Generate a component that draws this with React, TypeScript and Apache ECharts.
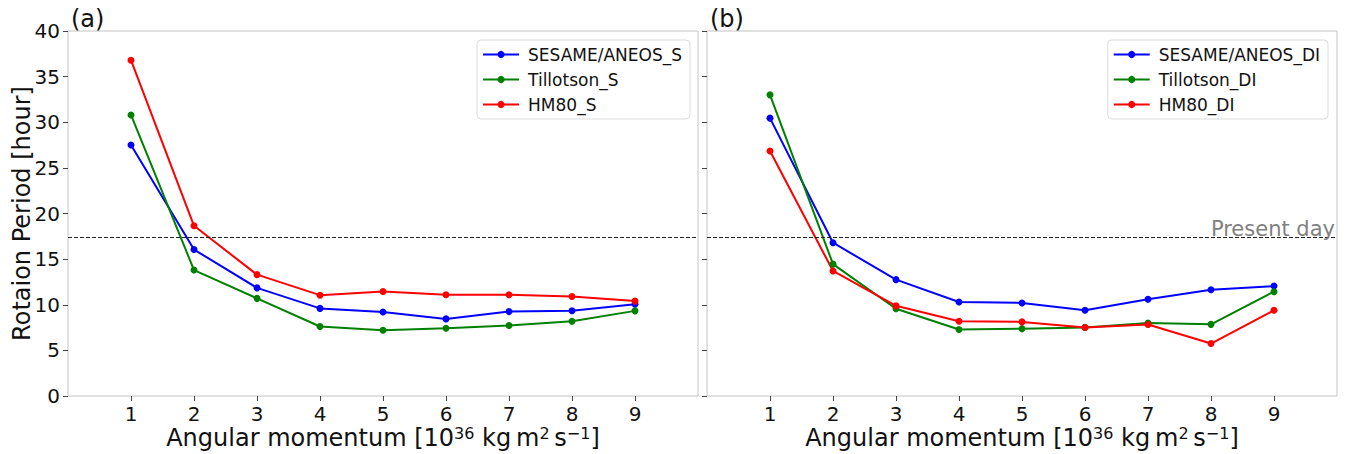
import React, { useEffect, useRef } from "react";
import * as echarts from "echarts";

const momentum = [1, 2, 3, 4, 5, 6, 7, 8, 9];
const xTicks = [1, 2, 3, 4, 5, 6, 7, 8, 9];
const presentDay = 17.35;

const sesameS = [27.5, 16.05, 11.85, 9.6, 9.2, 8.45, 9.25, 9.35, 10.05];
const tillotsonS = [30.8, 13.8, 10.7, 7.62, 7.2, 7.42, 7.72, 8.2, 9.33];
const hm80S = [36.8, 18.65, 13.3, 11.05, 11.45, 11.1, 11.1, 10.9, 10.4];

const sesameDI = [30.45, 16.8, 12.75, 10.3, 10.2, 9.4, 10.6, 11.65, 12.05];
const tillotsonDI = [33.0, 14.45, 9.56, 7.28, 7.38, 7.52, 8.0, 7.85, 11.43];
const hm80DI = [26.85, 13.7, 9.88, 8.2, 8.12, 7.5, 7.83, 5.75, 9.4];

const FONT = "DejaVu Sans";
const colors = { blue: "#0000ff", green: "#008000", red: "#ff0000" };

function pairs(ys: number[]) {
  return momentum.map((x, i) => [x, ys[i]]);
}

export default function App() {
  const ref = useRef<HTMLDivElement>(null);
  useEffect(() => {
    if (!ref.current) return;
    const chart = echarts.init(ref.current, undefined, { renderer: "svg" });
    const xName =
      "{m|Angular momentum [10}{s|36}{m| kg\u2009m}{s|2}{m|\u2009s}{s|−1}{m|]}";
    const xAxisBase = (gridIndex: number) => ({
      type: "value",
      gridIndex,
      min: 0,
      max: 10,
      interval: 1,
      splitLine: { show: false },
      axisLine: { show: false },
      axisTick: {
        show: true,
        length: 5,
        lineStyle: { color: "#444" },
        customValues: xTicks,
      },
      axisLabel: {
        fontSize: 20,
        color: "#111",
        fontFamily: FONT,
        margin: 8,
        customValues: xTicks,
      },
      name: xName,
      nameLocation: "middle",
      nameGap: 29,
      nameMoveOverlap: false,
      nameTextStyle: {
        fontFamily: FONT,
        color: "#111",
        rich: {
          m: { fontSize: 24, fontFamily: FONT, color: "#111", lineHeight: 26 },
          s: {
            fontSize: 16,
            fontFamily: FONT,
            color: "#111",
            verticalAlign: "top",
            lineHeight: 14,
          },
        },
      },
    });
    const yAxisBase = (gridIndex: number, showLabels: boolean) => ({
      type: "value",
      gridIndex,
      min: 0,
      max: 40,
      interval: 5,
      splitLine: { show: false },
      axisLine: { show: false },
      axisTick: { show: true, length: 5, lineStyle: { color: "#444" } },
      axisLabel: {
        show: showLabels,
        fontSize: 20,
        color: "#111",
        fontFamily: FONT,
        margin: 8,
      },
      name: showLabels ? "Rotaion Period [hour]" : "",
      nameLocation: "middle",
      nameRotate: 90,
      nameGap: 34,
      nameMoveOverlap: false,
      nameTextStyle: { fontSize: 24, fontFamily: FONT, color: "#111" },
    });
    const mk = (
      name: string,
      data: number[],
      color: string,
      idx: number,
      markLine?: any
    ) => ({
      name,
      type: "line",
      xAxisIndex: idx,
      yAxisIndex: idx,
      data: pairs(data),
      symbol: "circle",
      symbolSize: 7,
      lineStyle: { color, width: 2 },
      itemStyle: { color },
      ...(markLine ? { markLine } : {}),
    });
    const mlLeft = {
      silent: true,
      symbol: "none",
      lineStyle: { color: "#222", type: [4, 2], width: 1.2 },
      label: { show: false },
      data: [{ yAxis: presentDay }],
    };
    const mlRight = {
      silent: true,
      symbol: "none",
      lineStyle: { color: "#222", type: [4, 2], width: 1.2 },
      label: {
        show: true,
        position: "insideEndTop",
        formatter: "Present day",
        fontSize: 21,
        fontFamily: FONT,
        color: "#808080",
        distance: [2, -2],
      },
      data: [{ yAxis: presentDay }],
    };
    const legendBase = {
      orient: "vertical",
      top: 40,
      borderColor: "#dcdcdc",
      borderWidth: 1,
      borderRadius: 4,
      padding: [6, 8, 6, 5],
      itemWidth: 36,
      itemHeight: 9,
      itemGap: 8,
      textStyle: { fontSize: 17, fontFamily: FONT, color: "#111", padding: [0, 0, 0, 4] },
    };
    chart.setOption({
      animation: false,
      backgroundColor: "#ffffff",
      textStyle: { fontFamily: FONT },
      title: [
        {
          text: "(a)",
          left: 66,
          top: 2,
          textStyle: { fontSize: 24, fontWeight: "normal", fontFamily: FONT, color: "#111" },
        },
        {
          text: "(b)",
          left: 705,
          top: 2,
          textStyle: { fontSize: 24, fontWeight: "normal", fontFamily: FONT, color: "#111" },
        },
      ],
      grid: [
        { left: 68, top: 31, width: 630, height: 365, show: true, borderColor: "#c4c4c4", borderWidth: 1, backgroundColor: "transparent", outerBoundsMode: "none", containLabel: false },
        { left: 707, top: 31, width: 630, height: 365, show: true, borderColor: "#c4c4c4", borderWidth: 1, backgroundColor: "transparent", outerBoundsMode: "none", containLabel: false },
      ],
      xAxis: [xAxisBase(0), xAxisBase(1)],
      yAxis: [yAxisBase(0, true), yAxisBase(1, false)],
      legend: [
        { ...legendBase, right: 670, data: ["SESAME/ANEOS_S", "Tillotson_S", "HM80_S"] },
        { ...legendBase, right: 32, data: ["SESAME/ANEOS_DI", "Tillotson_DI", "HM80_DI"] },
      ],
      series: [
        mk("SESAME/ANEOS_S", sesameS, colors.blue, 0, mlLeft),
        mk("Tillotson_S", tillotsonS, colors.green, 0),
        mk("HM80_S", hm80S, colors.red, 0),
        mk("SESAME/ANEOS_DI", sesameDI, colors.blue, 1, mlRight),
        mk("Tillotson_DI", tillotsonDI, colors.green, 1),
        mk("HM80_DI", hm80DI, colors.red, 1),
      ],
    });
    return () => chart.dispose();
  }, []);
  return (
    <div
      ref={ref}
      style={{ position: "absolute", left: 0, top: 0, width: 1360, height: 454 }}
    />
  );
}
